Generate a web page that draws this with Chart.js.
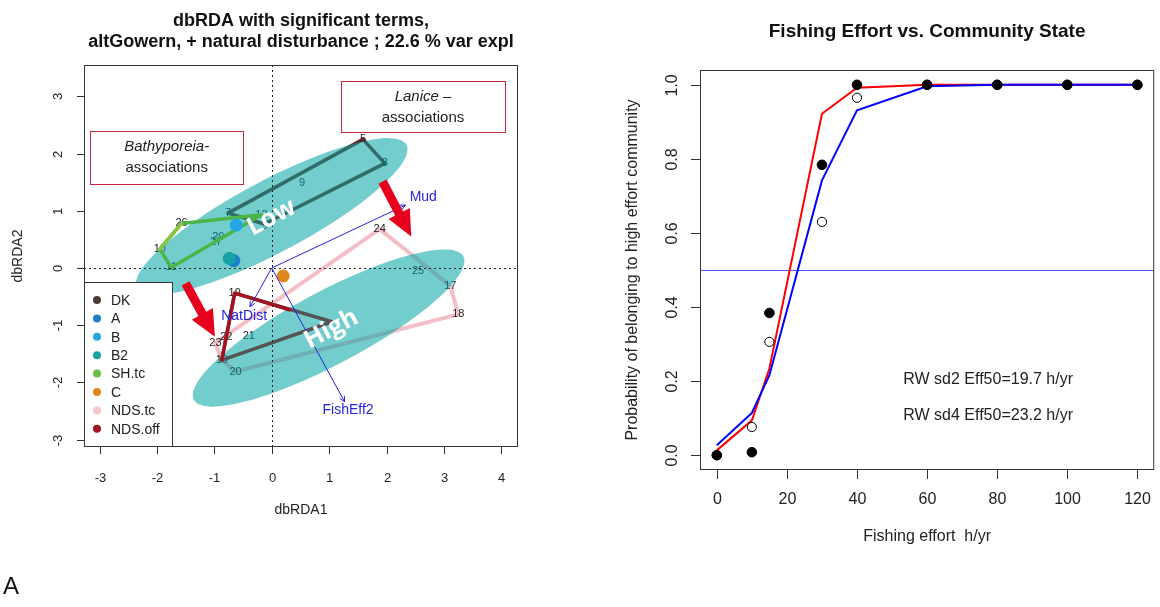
<!DOCTYPE html>
<html>
<head>
<meta charset="utf-8">
<script src="https://cdn.jsdelivr.net/npm/chart.js@4.4.1/dist/chart.umd.min.js"></script>
<style>
  html, body { margin: 0; padding: 0; background: #fff; }
  #wrap { position: relative; width: 1160px; height: 607px; overflow: hidden; }
  .panel { position: absolute; top: 0; width: 580px; height: 607px; }
  #left { left: 0; }
  #right { left: 580px; }
  #tag { position: absolute; left: 3px; top: 572px; font: 24px "Liberation Sans", Arial, sans-serif; color: #111; }
</style>
</head>
<body>
<div id="wrap">
  <div class="panel" id="left"><canvas id="rda" width="580" height="607"></canvas></div>
  <div class="panel" id="right"><canvas id="fit" width="580" height="607"></canvas></div>
  <div id="tag">A</div>
</div>
<script>
const FONT = '"Liberation Sans", Arial, sans-serif';

// ---------- left panel: dbRDA ordination ----------
const siteIds = ['5', '8', '9', '7', '3', '12', '26', '10', '11', '29', '27',
  '24', '25', '17', '18', '19', '22', '23', '16', '21', '20'];
const siteX = [1.59, 1.97, 0.53, -0.76, -0.13, -0.18, -1.57, -1.95, -1.75, -0.93, -0.97,
  1.88, 2.55, 3.11, 3.25, -0.645, -0.79, -0.98, -0.87, -0.40, -0.63];
const siteY = [2.25, 1.83, 1.49, 0.96, 0.74, 0.93, 0.78, 0.33, 0.01, 0.55, 0.45,
  0.68, -0.05, -0.31, -0.81, -0.44, -1.20, -1.31, -1.61, -1.19, -1.81];

// group hulls
const lowHullX = [-0.76, 1.59, 1.97, -0.13, -0.76];
const lowHullY = [0.96, 2.25, 1.83, 0.77, 0.96];
const greenHullX = [-1.57, -0.18, -1.75, -1.95];
const greenHullY = [0.78, 0.93, 0.01, 0.33];
const shHullX = [-1.95, -1.57];
const shHullY = [0.33, 0.78];
const pinkHullX = [1.88, 3.11, 3.25, -0.63, -0.87, -0.98, 1.88];
const pinkHullY = [0.68, -0.31, -0.81, -1.81, -1.61, -1.31, 0.68];
const greyHullX = [-0.645, 1.05, -0.87, -0.645];
const greyHullY = [-0.44, -0.94, -1.61, -0.44];
const redHullX = [-0.87, -0.645, 0.31];
const redHullY = [-1.61, -0.44, -0.73];

// group centroids shown as dots
const dotNames = ['B', 'B2', 'A', 'C'];
const dotX = [-0.62, -0.74, -0.66, 0.20];
const dotY = [0.75, 0.17, 0.13, -0.14];

// community ellipses (centre, half axes in axis units, tilt in degrees)
const ellipseNames = ['Low', 'High'];
const ellipseX = [0.0, 0.99];
const ellipseY = [0.90, -1.05];
const ellipseLong = [2.66, 2.66];
const ellipseShort = [0.63, 0.64];
const ellipseTilt = 28;

// fitted environmental vectors
const envNames = ['Mud', 'NatDist', 'FishEff2'];
const envX = [2.33, -0.38, 1.27];
const envY = [1.10, -0.68, -2.34];
const envLabelX = [2.64, -0.48, 1.33];
const envLabelY = [1.24, -0.85, -2.49];

// shift arrows (from, to)
const shiftFromX = [1.93, -1.50];
const shiftFromY = [1.51, -0.27];
const shiftToX = [2.43, -0.99];
const shiftToY = [0.55, -1.20];

const legendNames = ['DK', 'A', 'B', 'B2', 'SH.tc', 'C', 'NDS.tc', 'NDS.off'];
const legendColours = ['#4b3c38', '#1f7fc8', '#25a6de', '#17a3a6', '#6dbe45', '#e0861c', '#f6c6cc', '#a3121f'];

const rdaXTicks = [-3, -2, -1, 0, 1, 2, 3, 4];
const rdaYTicks = [-3, -2, -1, 0, 1, 2, 3];

// ---------- right panel: fishing effort ----------
const effort = [0, 10, 15, 30, 40, 60, 80, 100, 120];
const obsSd2 = [0, 0.008, 0.384, 0.784, 1, 1, 1, 1, 1];
const obsSd4 = [0, 0.076, 0.306, 0.63, 0.965, 1, 1, 1, 1];
const fitSd2 = [0.013, 0.094, 0.234, 0.922, 0.992, 1.0, 1.0, 1.0, 1.0];
const fitSd4 = [0.027, 0.114, 0.216, 0.742, 0.931, 0.996, 1.0, 1.0, 1.0];
const cutoff = 0.5;
const notes = ['RW sd2 Eff50=19.7 h/yr', 'RW sd4 Eff50=23.2 h/yr'];
const effXTicks = [0, 20, 40, 60, 80, 100, 120];
const effYTicks = [0, 0.2, 0.4, 0.6, 0.8, 1.0];

const xy = (xs, ys) => xs.map((v, i) => ({ x: v, y: ys[i] }));

// R style frame: box, outward ticks, rotated y labels, titles
const rFrame = {
  id: 'rFrame',
  afterDraw(chart, args, o) {
    const ctx = chart.ctx, a = chart.chartArea;
    const xs = chart.scales.x, ys = chart.scales.y;
    ctx.save();
    ctx.strokeStyle = '#333';
    ctx.lineWidth = 1;
    ctx.strokeRect(a.left + 0.5, a.top + 0.5, a.right - a.left - 1, a.bottom - a.top - 1);
    ctx.fillStyle = '#222';
    ctx.font = o.tickFont;
    ctx.textAlign = 'center';
    ctx.textBaseline = 'middle';
    o.xTicks.forEach(v => {
      const px = Math.round(xs.getPixelForValue(v)) + 0.5;
      ctx.beginPath(); ctx.moveTo(px, a.bottom); ctx.lineTo(px, a.bottom + o.tick); ctx.stroke();
      ctx.fillText(o.fmtX(v), px, a.bottom + o.xGap);
    });
    o.yTicks.forEach(v => {
      const py = Math.round(ys.getPixelForValue(v)) + 0.5;
      ctx.beginPath(); ctx.moveTo(a.left, py); ctx.lineTo(a.left - o.tick, py); ctx.stroke();
      ctx.save();
      ctx.translate(a.left - o.yGap, py);
      ctx.rotate(-Math.PI / 2);
      ctx.fillText(o.fmtY(v), 0, 0);
      ctx.restore();
    });
    const cx = (a.left + a.right) / 2, cy = (a.top + a.bottom) / 2;
    ctx.font = o.labelFont;
    ctx.fillText(o.xTitle, cx, a.bottom + o.xTitleGap);
    ctx.save();
    ctx.translate(a.left - o.yTitleGap, cy);
    ctx.rotate(-Math.PI / 2);
    ctx.fillText(o.yTitle, 0, 0);
    ctx.restore();
    ctx.font = o.titleFont;
    ctx.fillStyle = '#111';
    o.title.forEach((t, i) => ctx.fillText(t, cx, o.titleY[i]));
    ctx.restore();
  }
};

function fatArrow(ctx, x0, y0, x1, y1, shaft, headW, headL) {
  const ang = Math.atan2(y1 - y0, x1 - x0);
  const len = Math.hypot(x1 - x0, y1 - y0);
  ctx.save();
  ctx.translate(x0, y0);
  ctx.rotate(ang);
  ctx.beginPath();
  ctx.moveTo(0, -shaft / 2);
  ctx.lineTo(len - headL, -shaft / 2);
  ctx.lineTo(len - headL, -headW / 2);
  ctx.lineTo(len, 0);
  ctx.lineTo(len - headL, headW / 2);
  ctx.lineTo(len - headL, shaft / 2);
  ctx.lineTo(0, shaft / 2);
  ctx.closePath();
  ctx.fill();
  ctx.restore();
}

const ordiDeco = {
  id: 'ordiDeco',
  afterDatasetDraw(chart, args, o) {
    if (args.index !== o.underIndex) return;
    const ctx = chart.ctx, xs = chart.scales.x, ys = chart.scales.y;
    ctx.save();
    ctx.font = '11px ' + FONT;
    ctx.fillStyle = '#222';
    ctx.textAlign = 'center';
    ctx.textBaseline = 'middle';
    siteIds.forEach((id, i) => ctx.fillText(id, xs.getPixelForValue(siteX[i]), ys.getPixelForValue(siteY[i])));
    const kx = xs.getPixelForValue(1) - xs.getPixelForValue(0);
    const ky = ys.getPixelForValue(0) - ys.getPixelForValue(1);
    ctx.fillStyle = 'rgba(0,164,164,0.55)';
    ellipseX.forEach((ex, i) => {
      ctx.beginPath();
      ctx.ellipse(xs.getPixelForValue(ex), ys.getPixelForValue(ellipseY[i]),
        ellipseLong[i] * kx, ellipseShort[i] * ky, -ellipseTilt * Math.PI / 180, 0, 2 * Math.PI);
      ctx.fill();
    });
    ctx.restore();
  },
  afterDatasetsDraw(chart, args, o) {
    const ctx = chart.ctx, a = chart.chartArea;
    const xs = chart.scales.x, ys = chart.scales.y;
    const X = v => xs.getPixelForValue(v), Y = v => ys.getPixelForValue(v);
    ctx.save();
    // zero lines
    ctx.strokeStyle = '#222';
    ctx.lineWidth = 1;
    ctx.setLineDash([2, 3]);
    const x0 = Math.round(X(0)) + 0.5, y0 = Math.round(Y(0)) + 0.5;
    ctx.beginPath();
    ctx.moveTo(x0, a.top); ctx.lineTo(x0, a.bottom);
    ctx.moveTo(a.left, y0); ctx.lineTo(a.right, y0);
    ctx.stroke();
    ctx.setLineDash([]);

    // fitted vectors
    ctx.strokeStyle = '#2424e0';
    ctx.fillStyle = '#2424e0';
    ctx.font = '14px ' + FONT;
    ctx.textAlign = 'center';
    ctx.textBaseline = 'middle';
    envNames.forEach((n, i) => {
      const ex = X(envX[i]), ey = Y(envY[i]);
      const ang = Math.atan2(ey - Y(0), ex - X(0));
      ctx.beginPath();
      ctx.moveTo(X(0), Y(0)); ctx.lineTo(ex, ey);
      ctx.moveTo(ex - 6 * Math.cos(ang - 0.45), ey - 6 * Math.sin(ang - 0.45));
      ctx.lineTo(ex, ey);
      ctx.lineTo(ex - 6 * Math.cos(ang + 0.45), ey - 6 * Math.sin(ang + 0.45));
      ctx.stroke();
      ctx.fillText(n, X(envLabelX[i]), Y(envLabelY[i]));
    });

    // shift arrows
    ctx.fillStyle = '#e6001e';
    shiftFromX.forEach((v, i) => fatArrow(ctx, X(v), Y(shiftFromY[i]), X(shiftToX[i]), Y(shiftToY[i]), 9, 24, 26));

    // ellipse names
    ctx.fillStyle = '#fff';
    ctx.font = 'bold 25px "Open Sans", "Liberation Sans", sans-serif';
    ellipseNames.forEach((n, i) => {
      ctx.save();
      ctx.translate(X(ellipseX[i] + o.nameShift[i]), Y(ellipseY[i] - 0.02));
      ctx.rotate(-ellipseTilt * Math.PI / 180);
      ctx.fillText(n, 0, 0);
      ctx.restore();
    });

    // association boxes
    o.boxes.forEach(b => {
      const bx = X(b.x0), by = Y(b.y0), bw = X(b.x1) - bx, bh = Y(b.y1) - by;
      ctx.fillStyle = '#fff';
      ctx.fillRect(bx, by, bw, bh);
      ctx.strokeStyle = '#c8283c';
      ctx.lineWidth = 1;
      ctx.strokeRect(Math.round(bx) + 0.5, Math.round(by) + 0.5, Math.round(bw), Math.round(bh));
      ctx.fillStyle = '#222';
      const cx = bx + bw / 2;
      b.lines.forEach((ln, j) => {
        const yy = by + bh * (j === 0 ? 0.31 : 0.71);
        ctx.font = 'italic 15px ' + FONT;
        const w1 = ctx.measureText(ln[0]).width;
        ctx.font = '15px ' + FONT;
        const w2 = ctx.measureText(ln[1]).width;
        const sx = cx - (w1 + w2) / 2;
        ctx.textAlign = 'left';
        ctx.font = 'italic 15px ' + FONT;
        ctx.fillText(ln[0], sx, yy);
        ctx.font = '15px ' + FONT;
        ctx.fillText(ln[1], sx + w1, yy);
      });
      ctx.textAlign = 'center';
    });

    // legend
    const lw = 88, lh = 165;
    const lx = a.left, ly = a.bottom - lh;
    ctx.fillStyle = '#fff';
    ctx.fillRect(lx, ly, lw, lh);
    ctx.strokeStyle = '#333';
    ctx.strokeRect(lx + 0.5, ly + 0.5, lw, lh - 1);
    ctx.font = '14px ' + FONT;
    ctx.textAlign = 'left';
    legendNames.forEach((n, i) => {
      const ry = ly + 18 + i * 18.4;
      ctx.fillStyle = legendColours[i];
      ctx.beginPath(); ctx.arc(lx + 13, ry, 4, 0, 2 * Math.PI); ctx.fill();
      ctx.fillStyle = '#222';
      ctx.fillText(n, lx + 27, ry + 1);
    });
    ctx.restore();
  }
};

const lineSet = (xs, ys, colour, width, order) => ({
  data: xy(xs, ys), showLine: true, borderColor: colour, borderWidth: width,
  pointRadius: 0, fill: false, tension: 0, order: order,
  borderJoinStyle: 'round', borderCapStyle: 'round'
});
const dotSet = (i) => ({
  data: [{ x: dotX[i], y: dotY[i] }], pointRadius: 6.5, borderWidth: 0,
  backgroundColor: legendColours[legendNames.indexOf(dotNames[i])], order: 0
});

const rdaSets = [
  dotSet(0), dotSet(1), dotSet(2), dotSet(3),
  lineSet(redHullX, redHullY, '#a3121f', 3.5, 0),
  lineSet(greyHullX, greyHullY, '#545454', 3.5, 0),
  lineSet(shHullX, shHullY, '#88c43f', 3.5, 0),
  lineSet(greenHullX.concat(greenHullX[0]), greenHullY.concat(greenHullY[0]), '#4cb548', 3.5, 0),
  lineSet(lowHullX, lowHullY, '#6a2a22', 3.5, 11),
  lineSet(pinkHullX, pinkHullY, '#f4bec6', 4, 12)
];

new Chart(document.getElementById('rda'), {
  type: 'scatter',
  data: { datasets: rdaSets },
  options: {
    responsive: false,
    animation: false,
    events: [],
    layout: { padding: { left: 84, top: 65, right: 62, bottom: 160 } },
    scales: {
      x: { type: 'linear', display: false, min: -3.27, max: 4.29 },
      y: { type: 'linear', display: false, min: -3.13, max: 3.55 }
    },
    plugins: {
      legend: { display: false },
      tooltip: { enabled: false },
      ordiDeco: {
        underIndex: 8,
        nameShift: [0, 0.05],
        boxes: [
          { x0: -3.16, y0: 2.40, x1: -0.50, y1: 1.48, lines: [['Bathyporeia-', ''], ['', 'associations']] },
          { x0: 1.21, y0: 3.27, x1: 4.06, y1: 2.37, lines: [['Lanice', ' \u2013'], ['', 'associations']] }
        ]
      },
      rFrame: {
        xTicks: rdaXTicks, yTicks: rdaYTicks,
        fmtX: v => String(v), fmtY: v => String(v),
        tickFont: '13px ' + FONT, labelFont: '14px ' + FONT,
        titleFont: 'bold 18px ' + FONT,
        tick: 7, xGap: 31, yGap: 26, xTitleGap: 63, yTitleGap: 66,
        xTitle: 'dbRDA1', yTitle: 'dbRDA2',
        title: ['dbRDA with significant terms,', 'altGowern, + natural disturbance ; 22.6 % var expl'],
        titleY: [21, 42]
      }
    }
  },
  plugins: [ordiDeco, rFrame]
});

// ---------- right chart ----------
const fitDeco = {
  id: 'fitDeco',
  beforeDatasetsDraw(chart) {
    const ctx = chart.ctx, a = chart.chartArea;
    const y = Math.round(chart.scales.y.getPixelForValue(cutoff)) + 0.5;
    ctx.save();
    ctx.strokeStyle = '#5a5af2';
    ctx.lineWidth = 1;
    ctx.beginPath(); ctx.moveTo(a.left, y); ctx.lineTo(a.right, y); ctx.stroke();
    ctx.restore();
  },
  afterDatasetsDraw(chart, args, o) {
    const ctx = chart.ctx, xs = chart.scales.x, ys = chart.scales.y;
    ctx.save();
    ctx.fillStyle = '#222';
    ctx.font = '16px ' + FONT;
    ctx.textAlign = 'left';
    ctx.textBaseline = 'middle';
    notes.forEach((t, i) => ctx.fillText(t, xs.getPixelForValue(o.noteX), ys.getPixelForValue(o.noteY[i])));
    ctx.restore();
  }
};

new Chart(document.getElementById('fit'), {
  type: 'scatter',
  data: {
    datasets: [
      { data: xy(effort, obsSd2), pointRadius: 4.8, backgroundColor: '#000', borderColor: '#000', borderWidth: 1 },
      { data: xy(effort, obsSd4), pointRadius: 4.6, backgroundColor: '#fff', borderColor: '#000', borderWidth: 1 },
      { data: xy(effort, fitSd4), showLine: true, borderColor: '#0000ff', borderWidth: 2, pointRadius: 0 },
      { data: xy(effort, fitSd2), showLine: true, borderColor: '#ff0000', borderWidth: 2, pointRadius: 0 }
    ]
  },
  options: {
    responsive: false,
    animation: false,
    events: [],
    layout: { padding: { left: 120, top: 70, right: 2, bottom: 137 } },
    scales: {
      x: { type: 'linear', display: false, min: -4.8, max: 124.8 },
      y: { type: 'linear', display: false, min: -0.04, max: 1.04 }
    },
    plugins: {
      legend: { display: false },
      tooltip: { enabled: false },
      fitDeco: { noteX: 53.2, noteY: [0.203, 0.108] },
      rFrame: {
        xTicks: effXTicks, yTicks: effYTicks,
        fmtX: v => String(v), fmtY: v => v.toFixed(1),
        tickFont: '16px ' + FONT, labelFont: '16px ' + FONT,
        titleFont: 'bold 19px ' + FONT,
        tick: 9, xGap: 30, yGap: 27, xTitleGap: 67, yTitleGap: 67,
        xTitle: 'Fishing effort  h/yr', yTitle: 'Probability of belonging to high effort community',
        title: ['Fishing Effort vs. Community State'],
        titleY: [32]
      }
    }
  },
  plugins: [fitDeco, rFrame]
});
</script>
</body>
</html>
